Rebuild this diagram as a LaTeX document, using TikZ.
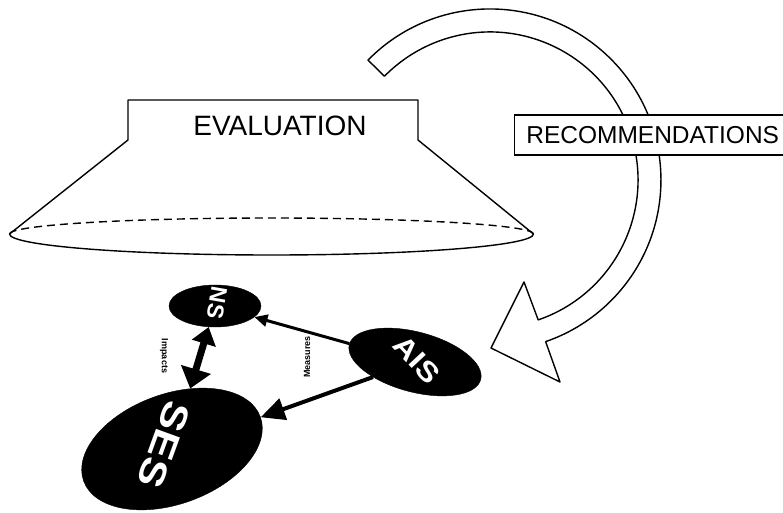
\documentclass[tikz,border=0pt]{standalone}
\usepackage{fontspec}
\setmainfont{Liberation Sans}
\usetikzlibrary{arrows.meta,shapes.geometric}
\begin{document}
\begin{tikzpicture}[x=1pt,y=-1pt,
  outline/.style={draw=black, line width=1.4pt, line join=round},
  blob/.style={ellipse, fill=black, draw=black, inner sep=0pt},
  blobtext/.style={text=white, font=\bfseries\fontsize{#1}{#1}\selectfont, inner sep=0pt},
  edgetext/.style={font=\bfseries\fontsize{9}{9}\selectfont, inner sep=0pt},
  conn/.style={draw=black, line cap=butt}
]
\path[use as bounding box, clip] (0,0) rectangle (783,513);
\fill[white] (0,0) rectangle (783,513);

% evaluation frustum
\draw[outline] (9.5,234) -- (128,140) -- (128,100) -- (418,100) -- (418,140) -- (533.5,234);
\draw[outline] (533.5,234) arc[start angle=0,end angle=180,x radius=262,y radius=21];
\draw[outline, dash pattern=on 8pt off 5pt] (9.5,234) arc[start angle=180,end angle=360,x radius=262,y radius=16];
\node[font=\fontsize{28}{30}\selectfont, inner sep=0pt] (eval) at (280,126) {EVALUATION};

% curved hollow arrow
\draw[outline, fill=white] (368,60.1) arc[start angle=224.5,end angle=431,radius=171]
  -- (560,382) -- (491,348) -- (524,282) -- (538.2,319.9)
  arc[start angle=431,end angle=224.5,radius=148] -- cycle;

% recommendations box
\node[draw, line width=1.4pt, fill=white, minimum width=276pt, minimum height=40pt,
  anchor=west, inner sep=0pt, font=\fontsize{24.5}{26}\selectfont] (rec) at (514,135) {RECOMMENDATIONS};

% black ellipses
\node[blob, minimum width=92pt, minimum height=42pt] (ns) at (215,306) {};
\node[blob, minimum width=188pt, minimum height=110pt, rotate=20] (ses) at (172,449) {};
\node[blob, minimum width=136pt, minimum height=60pt, rotate=-15] (ais) at (415,362) {};

\node[blobtext=23, rotate=-100] (nst) at (217,303) {NS};
\node[blobtext=37, rotate=-110] (sest) at (164,445) {\scalebox{1.2}[1]{SES}};
\node[blobtext=28, rotate=-47] (aist) at (417,360) {\scalebox{1.15}[1]{AIS}};

% connectors
\draw[conn, line width=3pt, -{Triangle[length=13pt,width=12pt]}] (ais) -- (ns);
\draw[conn, line width=4pt, -{Triangle[length=24pt,width=22pt]}] (ais) -- (ses);
\draw[conn, line width=7pt, {Triangle[length=17pt,width=24pt]}-{Triangle[length=20pt,width=30pt]}] (ns) -- (ses);

% connector labels
\node[edgetext, rotate=-90] (imp) at (164,356) {Impacts};
\node[edgetext, rotate=90] (mea) at (307,357) {Measures};
\end{tikzpicture}
\end{document}
